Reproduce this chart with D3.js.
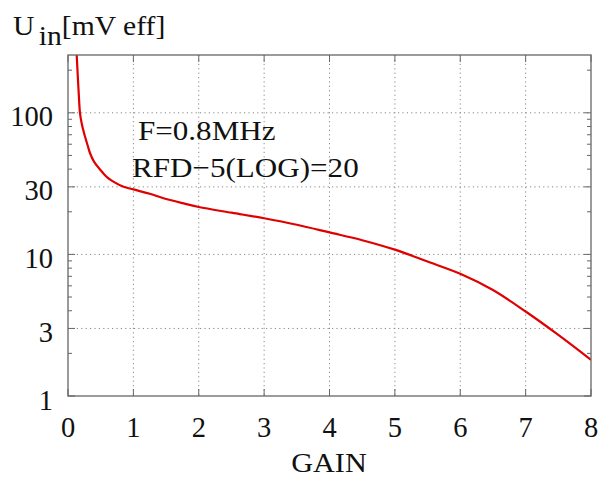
<!DOCTYPE html>
<html>
<head>
<meta charset="utf-8">
<script src="https://cdn.jsdelivr.net/npm/d3@7"></script>
<style>
  html, body { margin: 0; padding: 0; background: #fff; }
  svg { display: block; }
  text { font-family: "Liberation Serif", "Times New Roman", serif; fill: #111; }
</style>
</head>
<body>
<svg id="chart" width="610" height="479"></svg>
<script>
// Input level needed vs. gain setting
const gain = [0.12, 0.133, 0.15, 0.165, 0.183, 0.21, 0.245, 0.30, 0.336, 0.40, 0.49, 0.60, 0.70, 0.85, 1.0, 1.25, 1.45, 1.75, 2.0, 2.5, 3.0, 3.5, 4.0, 4.5, 5.0, 5.5, 6.0, 6.5, 7.0, 7.5, 8.0];
const uin  = [330, 256, 180, 135, 100, 84, 72, 59, 52, 45, 39.8, 35, 32.5, 30, 28.8, 26.8, 25, 23, 21.6, 19.7, 18.0, 16.2, 14.3, 12.6, 10.8, 8.9, 7.3, 5.6, 3.95, 2.7, 1.8];

const xTicks = [0, 1, 2, 3, 4, 5, 6, 7, 8];
const yTicks = [1, 3, 10, 30, 100];
const yMinor = [2, 4, 5, 6, 7, 8, 9, 20, 40, 50, 60, 70, 80, 90, 200];
const notes = ["F=0.8MHz", "RFD\u22125(LOG)=20"];

const svg = d3.select("#chart");
const L = 68, R = 591, T = 55, B = 396;

const x = d3.scaleLinear().domain([0, 8]).range([L, R]);
const y = d3.scaleLog().domain([1, 256]).range([B, T]);

// text placed at (px, py), optionally widened a little
function label(g, px, py, str, size, sx, anchor) {
  return g.append("text")
    .attr("transform", `translate(${px},${py}) scale(${sx || 1},1)`)
    .attr("text-anchor", anchor || "start")
    .attr("font-size", size).text(str);
}

const grid = svg.append("g").attr("stroke", "#888").attr("stroke-width", 1)
  .attr("stroke-dasharray", "1.2,3.2");
xTicks.filter(d => d > 0 && d < 8).forEach(d => {
  grid.append("line").attr("x1", x(d)).attr("x2", x(d)).attr("y1", T).attr("y2", B);
});
yTicks.filter(d => d > 1).forEach(d => {
  grid.append("line").attr("x1", L).attr("x2", R).attr("y1", y(d)).attr("y2", y(d));
});

// inward ticks on all four sides
const tk = svg.append("g").attr("stroke", "#666").attr("stroke-width", 1);
xTicks.forEach(d => {
  tk.append("line").attr("x1", x(d)).attr("x2", x(d)).attr("y1", B).attr("y2", B - 7);
  tk.append("line").attr("x1", x(d)).attr("x2", x(d)).attr("y1", T).attr("y2", T + 7);
});
yTicks.forEach(d => {
  tk.append("line").attr("x1", L).attr("x2", L + 7).attr("y1", y(d)).attr("y2", y(d));
  tk.append("line").attr("x1", R).attr("x2", R - 7).attr("y1", y(d)).attr("y2", y(d));
});
yMinor.forEach(d => {
  tk.append("line").attr("x1", L).attr("x2", L + 4).attr("y1", y(d)).attr("y2", y(d));
  tk.append("line").attr("x1", R).attr("x2", R - 4).attr("y1", y(d)).attr("y2", y(d));
});

svg.append("defs").append("clipPath").attr("id", "plot")
  .append("rect").attr("x", L).attr("y", T).attr("width", R - L).attr("height", B - T);

const line = d3.line().x((d, i) => x(gain[i])).y(d => y(d)).curve(d3.curveCatmullRom.alpha(0.5));
svg.append("path").datum(uin)
  .attr("clip-path", "url(#plot)")
  .attr("d", line)
  .attr("fill", "none").attr("stroke", "#e00000").attr("stroke-width", 2.2);

svg.append("rect").attr("x", L).attr("y", T).attr("width", R - L).attr("height", B - T)
  .attr("fill", "none").attr("stroke", "#666").attr("stroke-width", 1.3);

// tick labels
const tl = svg.append("g");
xTicks.forEach(d => label(tl, x(d), 437, d, 28.5, 1, "middle"));
yTicks.forEach(d => label(tl, 53, y(d) + 13.5, d, 28.5, 1, "end"));

label(svg, 329, 472, "GAIN", 28, 1.08, "middle");

const yl = svg.append("text")
  .attr("transform", "translate(13,35) scale(1.06,1)")
  .attr("font-size", 28);
yl.append("tspan").text("U");
yl.append("tspan").attr("dy", 10).attr("dx", 4).text("in");
yl.append("tspan").attr("dy", -10).text("[mV eff]");

const nt = svg.append("g");
notes.forEach((d, i) => label(nt, i === 0 ? 138 : 132, 140 + i * 37, d, 28, 1.11));
</script>
</body>
</html>
